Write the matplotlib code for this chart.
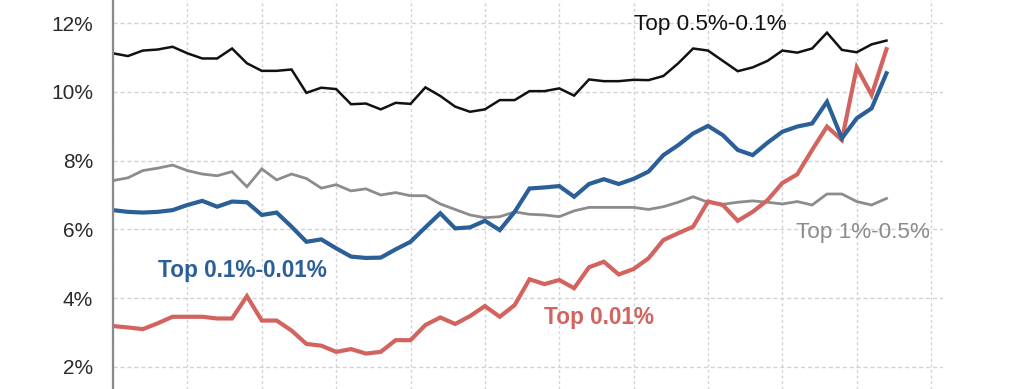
import matplotlib
matplotlib.use("Agg")
import matplotlib.pyplot as plt
from matplotlib.ticker import FuncFormatter, MultipleLocator

plt.rcParams["font.family"] = ["Liberation Sans", "DejaVu Sans"]

years = list(range(1960, 2013))

# Income shares (%)
top_05_01 = [11.12, 11.04, 11.20, 11.23, 11.31, 11.12, 10.97, 10.97, 11.26, 10.83,
             10.61, 10.61, 10.65, 9.97, 10.12, 10.08, 9.64, 9.66, 9.49, 9.68,
             9.65, 10.13, 9.88, 9.57, 9.42, 9.49, 9.76, 9.76, 10.02, 10.02,
             10.10, 9.89, 10.36, 10.31, 10.31, 10.35, 10.34, 10.46, 10.83, 11.26,
             11.20, 10.90, 10.60, 10.71, 10.90, 11.20, 11.14, 11.26, 11.72, 11.22,
             11.15, 11.38, 11.49]

top_1_05 = [7.42, 7.50, 7.71, 7.78, 7.87, 7.71, 7.61, 7.56, 7.68, 7.24,
            7.76, 7.44, 7.61, 7.48, 7.20, 7.30, 7.12, 7.18, 7.00, 7.07,
            6.98, 6.98, 6.74, 6.58, 6.42, 6.34, 6.37, 6.51, 6.44, 6.42,
            6.37, 6.54, 6.64, 6.64, 6.64, 6.64, 6.58, 6.66, 6.79, 6.95,
            6.79, 6.73, 6.79, 6.83, 6.79, 6.74, 6.81, 6.71, 7.03, 7.03,
            6.81, 6.71, 6.90]

top_01_001 = [6.56, 6.51, 6.49, 6.51, 6.56, 6.71, 6.83, 6.66, 6.81, 6.79,
              6.42, 6.49, 6.08, 5.64, 5.71, 5.45, 5.21, 5.17, 5.18, 5.42,
              5.64, 6.06, 6.47, 6.03, 6.06, 6.25, 5.98, 6.51, 7.19, 7.22,
              7.26, 6.95, 7.32, 7.46, 7.32, 7.47, 7.68, 8.16, 8.45, 8.79,
              9.01, 8.74, 8.31, 8.16, 8.52, 8.84, 8.99, 9.08, 9.71, 8.65,
              9.23, 9.52, 10.54]

top_001 = [3.19, 3.15, 3.10, 3.27, 3.46, 3.46, 3.46, 3.41, 3.41, 4.06,
           3.35, 3.35, 3.06, 2.67, 2.62, 2.44, 2.52, 2.39, 2.44, 2.78,
           2.78, 3.22, 3.44, 3.25, 3.48, 3.77, 3.46, 3.80, 4.55, 4.41,
           4.53, 4.29, 4.90, 5.06, 4.69, 4.85, 5.16, 5.69, 5.89, 6.08,
           6.81, 6.71, 6.25, 6.51, 6.85, 7.35, 7.60, 8.31, 8.99, 8.60,
           10.71, 9.91, 11.24]

black = "#111111"
gray = "#8c8c8c"
blue = "#2b5f97"
red = "#d2635f"

fig = plt.figure(figsize=(10.24, 3.89), dpi=100)
ax = fig.add_axes([0.1104, 0.0, 0.8105, 1.0])

ax.plot(years, top_1_05, color=gray, linewidth=2.0, solid_joinstyle="miter")
ax.plot(years, top_05_01, color=black, linewidth=1.8, solid_joinstyle="miter")
ax.plot(years, top_001, color=red, linewidth=3.0, solid_joinstyle="miter")
ax.plot(years, top_01_001, color=blue, linewidth=3.0, solid_joinstyle="miter")

ax.set_xlim(1960, 2015.8)
ax.set_ylim(1.36, 12.67)

ax.xaxis.set_major_locator(MultipleLocator(5))
ax.yaxis.set_major_locator(MultipleLocator(2))
ax.yaxis.set_major_formatter(FuncFormatter(lambda v, p: f"{v:.0f}%"))
ax.tick_params(axis="x", length=0, labelbottom=False)
ax.tick_params(axis="y", length=0, pad=14.5, labelsize=15, labelcolor="#2a2a2a")

ax.grid(axis="y", color="#d2d2d2", linestyle=(0, (3, 2)), linewidth=1.0)
ax.grid(axis="x", color="#d2d2d2", linestyle=(0, (2, 2)), linewidth=1.0)
ax.set_axisbelow(True)

for side in ["top", "right", "bottom"]:
    ax.spines[side].set_visible(False)
ax.spines["left"].set_color("#8a8a8a")
ax.spines["left"].set_linewidth(1.6)

# Series labels
ax.text(1995.0, 11.97, "Top 0.5%-0.1%", color=black, fontsize=16.2, va="center", ha="left")
ax.text(2005.9, 5.90, "Top 1%-0.5%", color=gray, fontsize=16.2, va="center", ha="left")
ax.text(1963.0, 4.80, "Top 0.1%-0.01%", color=blue, fontsize=16.3, fontweight="bold", va="center", ha="left")
ax.text(1989.0, 3.45, "Top 0.01%", color=red, fontsize=16.3, fontweight="bold", va="center", ha="left")

plt.savefig("out.png", dpi=100)
